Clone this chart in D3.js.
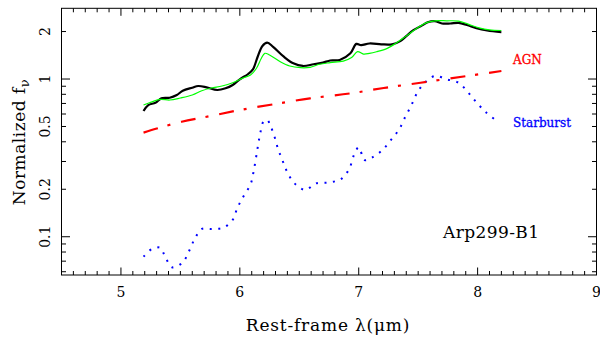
<!DOCTYPE html>
<html><head><meta charset="utf-8">
<script src="https://cdn.jsdelivr.net/npm/d3@7"></script>
<style>body{margin:0;background:#fff}svg{display:block}</style>
</head><body>
<svg id="c" width="600" height="340"></svg>
<script>
// ---- data ----
const totalX = [5.19,5.23,5.29,5.34,5.41,5.47,5.52,5.60,5.65,5.72,5.81,5.88,5.94,6.00,6.07,6.11,6.15,6.19,6.23,6.28,6.37,6.45,6.53,6.62,6.70,6.76,6.84,6.93,6.98,7.02,7.09,7.19,7.28,7.35,7.40,7.46,7.53,7.58,7.64,7.70,7.77,7.84,7.91,7.99,8.08,8.20];
const totalY = [0.627,0.684,0.707,0.754,0.761,0.792,0.843,0.881,0.903,0.886,0.852,0.873,0.916,0.996,1.076,1.15,1.385,1.62,1.70,1.60,1.385,1.257,1.21,1.24,1.27,1.31,1.32,1.455,1.67,1.64,1.68,1.66,1.66,1.74,1.87,2.04,2.18,2.29,2.33,2.25,2.25,2.27,2.20,2.10,2.03,1.98];
const fitX = [5.19,5.24,5.33,5.41,5.50,5.60,5.68,5.76,5.85,5.94,6.02,6.09,6.14,6.18,6.21,6.25,6.34,6.42,6.51,6.59,6.67,6.76,6.87,6.94,6.99,7.04,7.09,7.15,7.24,7.31,7.39,7.49,7.57,7.64,7.74,7.84,7.92,8.02,8.10,8.20];
const fitY = [0.684,0.707,0.743,0.736,0.758,0.792,0.843,0.877,0.903,0.947,1.01,1.06,1.17,1.35,1.455,1.42,1.288,1.21,1.18,1.186,1.24,1.27,1.30,1.37,1.49,1.44,1.455,1.49,1.565,1.68,1.85,2.10,2.28,2.34,2.34,2.33,2.23,2.10,2.05,2.03];
const agnX = [5.19,5.31,5.51,5.75,6.00,6.28,6.59,6.93,7.21,7.52,7.91,8.20];
const agnY = [0.457,0.487,0.536,0.582,0.636,0.691,0.754,0.811,0.877,0.947,1.045,1.124];
const sbX = [5.19,5.26,5.33,5.37,5.43,5.52,5.57,5.62,5.68,5.76,5.86,5.94,5.98,6.03,6.09,6.12,6.15,6.17,6.20,6.23,6.26,6.29,6.32,6.36,6.40,6.46,6.55,6.64,6.75,6.85,6.92,6.96,7.00,7.05,7.11,7.20,7.27,7.34,7.39,7.44,7.49,7.55,7.64,7.74,7.84,7.92,7.99,8.07,8.15];
const sbY = [0.0747,0.0836,0.0851,0.0754,0.064,0.0688,0.0803,0.0967,0.112,0.112,0.114,0.128,0.153,0.180,0.215,0.27,0.367,0.446,0.54,0.55,0.50,0.435,0.363,0.303,0.256,0.218,0.198,0.218,0.221,0.232,0.269,0.330,0.369,0.306,0.317,0.355,0.410,0.480,0.572,0.675,0.812,0.939,1.045,0.995,0.947,0.823,0.712,0.615,0.55];
const xTickLabels = [5,6,7,8,9];
const yTickLabels = [0.1,0.2,0.5,1,2];
const yMinorTicks = [0.06,0.07,0.08,0.09,0.2,0.3,0.4,0.5,0.6,0.7,0.8,0.9,2];
const yMajorTicks = [0.1,1];
const xDomain = [4.5,9];
const yDomain = [0.0572,2.808];
const labels = {x:"Rest-frame λ(μm)", y:"Normalized f", ySub:"ν", agn:"AGN", sb:"Starburst", name:"Arp299-B1"};

// ---- layout ----
const L=61.5, R=596.5, T=8.3, B=275;
const svg = d3.select("#c");
const x = d3.scaleLinear().domain(xDomain).range([L,R]);
const y = d3.scaleLog().domain(yDomain).range([B,T]);
const serif = "DejaVu Serif, serif";

svg.append("clipPath").attr("id","pc").append("rect")
  .attr("x",L).attr("y",T).attr("width",R-L).attr("height",B-T);

function series(xs, ys){ return xs.map((v,i)=>[v, ys[i]]); }
const line = d3.line().x(d=>x(d[0])).y(d=>y(d[1])).curve(d3.curveCatmullRom.alpha(0.5));
const g = svg.append("g").attr("clip-path","url(#pc)");

g.append("path").attr("d", line(series(sbX,sbY))).attr("fill","none")
  .attr("stroke","#0000ff").attr("stroke-width",2).attr("stroke-dasharray","2,6.5");
g.append("path").attr("d", line(series(agnX,agnY))).attr("fill","none")
  .attr("stroke","#ff0000").attr("stroke-width",2.2).attr("stroke-dasharray","15,10,3,11");
g.append("path").attr("d", line(series(totalX,totalY))).attr("fill","none")
  .attr("stroke","#000").attr("stroke-width",2.2);
g.append("path").attr("d", line(series(fitX,fitY))).attr("fill","none")
  .attr("stroke","#00ff00").attr("stroke-width",1.2);

// ---- frame & ticks ----
const ax = svg.append("g").attr("stroke","#000").attr("stroke-width",1);
ax.append("rect").attr("x",L).attr("y",T).attr("width",R-L).attr("height",B-T).attr("fill","none");
const xMinor = d3.range(45,91).map(d=>d/10);
xMinor.forEach(v=>{
  const major = Math.abs(v-Math.round(v))<1e-6;
  const len = major?7.5:4;
  ax.append("line").attr("x1",x(v)).attr("x2",x(v)).attr("y1",B).attr("y2",B-len);
  ax.append("line").attr("x1",x(v)).attr("x2",x(v)).attr("y1",T).attr("y2",T+len);
});
yMinorTicks.concat(yMajorTicks).forEach(v=>{
  const len = yMajorTicks.includes(v)?8.5:4.5;
  ax.append("line").attr("y1",y(v)).attr("y2",y(v)).attr("x1",L).attr("x2",L+len);
  ax.append("line").attr("y1",y(v)).attr("y2",y(v)).attr("x1",R).attr("x2",R-len);
});

// tick labels
svg.append("g").selectAll("text").data(xTickLabels).join("text")
  .attr("x",d=>x(d)).attr("y",297).attr("text-anchor","middle")
  .attr("font-family",serif).attr("font-size",14).text(d=>d);
svg.append("g").selectAll("text").data(yTickLabels).join("text")
  .attr("transform",d=>`translate(50,${y(d)}) rotate(-90)`).attr("text-anchor","middle")
  .attr("font-family",serif).attr("font-size",14).text(d=>d);

// axis labels
svg.append("text").attr("x",328).attr("y",331).attr("text-anchor","middle")
  .attr("font-family",serif).attr("font-size",17).attr("letter-spacing",0.8).text(labels.x);
const yl = svg.append("text").attr("transform","translate(25,142) rotate(-90)").attr("text-anchor","middle")
  .attr("font-family",serif).attr("font-size",17).attr("letter-spacing",0.5);
yl.append("tspan").text(labels.y);
yl.append("tspan").attr("dy",4).attr("font-size",13).text(labels.ySub);

// annotations
svg.append("text").attr("x",513).attr("y",64).attr("fill","#ff0000").attr("stroke","#ff0000").attr("stroke-width",0.3)
  .attr("font-family",serif).attr("font-size",12).text(labels.agn);
svg.append("text").attr("x",513).attr("y",127).attr("fill","#0000ff").attr("stroke","#0000ff").attr("stroke-width",0.3)
  .attr("font-family",serif).attr("font-size",12).text(labels.sb);
svg.append("text").attr("x",443).attr("y",238)
  .attr("font-family",serif).attr("font-size",17).attr("letter-spacing",0.4).text(labels.name);
</script>
</body></html>
